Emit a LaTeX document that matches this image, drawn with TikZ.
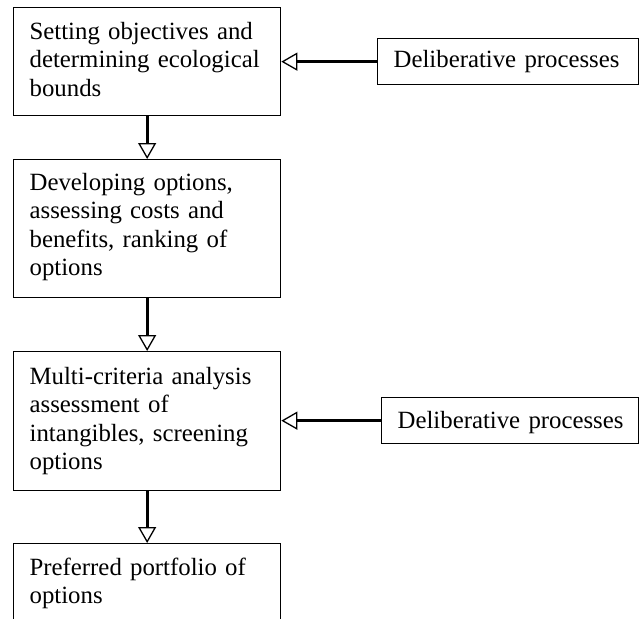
\documentclass[tikz,border=0pt]{standalone}
\usepackage{fontspec}
\setmainfont{Liberation Serif}
\usetikzlibrary{arrows.meta}
\begin{document}
\begin{tikzpicture}[x=1pt,y=-1pt,
  font=\fontsize{24.8pt}{28.3pt}\selectfont,
  box/.style={draw, line width=1.3pt, anchor=north west, inner xsep=16pt, inner ysep=0pt, align=left},
  flow/.style={line width=2.8pt, -{Triangle[open, length=16pt, width=18pt, line width=1.3pt]}}]
\useasboundingbox (0,0) rectangle (639,618);
\clip (0,0) rectangle (639,618);
\node[box, text width=235pt, text height=32pt, text depth=76pt] (b1) at (13,7)
  {Setting objectives and\\determining ecological\\bounds};
\node[box, text width=235pt, text height=31pt, text depth=107pt] (b2) at (13,159)
  {Developing options,\\assessing costs and\\benefits, ranking of\\options};
\node[box, text width=235pt, text height=33pt, text depth=106pt] (b3) at (13,351)
  {Multi-criteria analysis\\assessment of\\intangibles, screening\\options};
\node[box, text width=235pt, text height=32pt, text depth=100pt] (b4) at (13,543)
  {Preferred portfolio of\\options};
\node[box, text width=229pt, text height=29pt, text depth=17pt] (r1) at (377,38)
  {\mbox{Deliberative processes}};
\node[box, text width=225pt, text height=31pt, text depth=15pt] (r2) at (381,397)
  {\mbox{Deliberative processes}};
\draw[flow] (b1.south) -- (b2.north);
\draw[flow] (b2.south) -- (b3.north);
\draw[flow] (b3.south) -- (b4.north);
\draw[flow] (r1.west) -- (r1.west -| b1.east);
\draw[flow] (r2.west) -- (r2.west -| b3.east);
\end{tikzpicture}
\end{document}
